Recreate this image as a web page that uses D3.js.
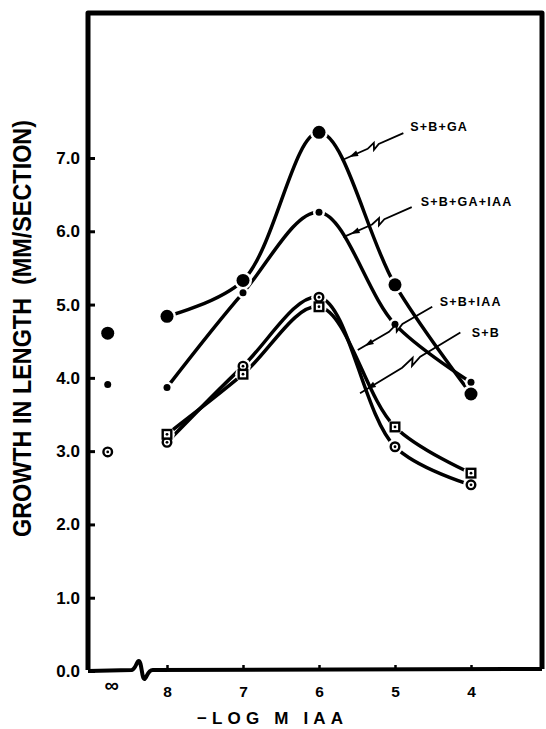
<!DOCTYPE html>
<html>
<head>
<meta charset="utf-8">
<script src="https://cdnjs.cloudflare.com/ajax/libs/d3/7.8.5/d3.min.js"></script>
<style>
body{margin:0;background:#fff;}
text{font-family:"Liberation Sans",Arial,sans-serif;font-weight:bold;fill:#000;}
</style>
</head>
<body>
<svg id="chart"></svg>
<script>
// -log M IAA, the ∞ column (no IAA) sits left of the axis break
var concs=[8,7,6,5,4];
var INF=8.78;
var yTicks=[0,1,2,3,4,5,6,7];

var seriesNames=["S+B+GA","S+B+GA+IAA","S+B+IAA","S+B"];
var seriesMarks=["big","dot","circle","square"];
// growth in length at 8,7,6,5,4
var sbga=[4.84,5.33,7.35,5.27,3.78];
var sbgaiaa=[3.87,5.16,6.26,4.73,3.94];
var sbiaa=[3.12,4.16,5.10,3.06,2.54];
var sb=[3.23,4.05,4.97,3.33,2.70];
var seriesVals=[sbga,sbgaiaa,sbiaa,sb];
// values at ∞ (S+B has none)
var infVals=[4.61,3.91,2.99,null];

// label anchor and leader ends, in data units [x,y]
var labelAt=[[4.80,7.37],[4.66,6.34],[4.41,4.98],[3.99,4.56]];
var leaderFrom=[[4.89,7.34],[4.78,6.33],[4.51,4.97],[4.14,4.62]];
var leaderTo=[[5.70,6.97],[5.68,5.92],[5.49,4.38],[5.46,3.79]];

var W=546,H=729;
var L=88,T=13,R=542,B=671;

var svg=d3.select("#chart").attr("width",W).attr("height",H);

var x=d3.scaleLinear().domain([8,4]).range([167,471]);
var y=d3.scaleLinear().domain([0,7]).range([B,158]);

// frame, bottom edge has the break squiggle
var bx=x(INF)+32;
var frame="M"+L+","+(B-1)+"L"+L+","+T+"L"+R+","+T+"L"+R+","+(B-2);
svg.append("path").attr("d",frame).attr("fill","none").attr("stroke","#000").attr("stroke-width",5).attr("stroke-linejoin","round");
var bottom="M"+L+","+B+"L"+(bx-8)+","+(B-1)
    +"C"+(bx-4)+","+(B-2)+" "+(bx-3)+","+(B-10)+" "+(bx-1)+","+(B-10)
    +"C"+(bx+2)+","+(B-10)+" "+(bx+2)+","+(B+9)+" "+(bx+5)+","+(B+8)
    +"C"+(bx+7)+","+(B+7)+" "+(bx+8)+","+(B-1)+" "+(bx+13)+","+(B-1)
    +"L"+R+","+(B-2);
svg.append("path").attr("d",bottom).attr("fill","none").attr("stroke","#000").attr("stroke-width",4).attr("stroke-linejoin","round");

// y axis ticks
var yAxis=svg.append("g").attr("transform","translate("+L+",0)")
    .call(d3.axisLeft(y).tickValues(yTicks).tickSize(-7).tickPadding(8).tickFormat(d3.format(".1f")));
yAxis.select(".domain").remove();
yAxis.selectAll("line").attr("stroke","#000").attr("stroke-width",3);
yAxis.selectAll("text").attr("font-size",17).attr("fill","#000");

// x axis ticks
var xAxis=svg.append("g").attr("transform","translate(0,"+B+")")
    .call(d3.axisBottom(x).tickValues(concs).tickSize(-6).tickPadding(15).tickFormat(d3.format("d")));
xAxis.select(".domain").remove();
xAxis.selectAll("line").attr("stroke","#000").attr("stroke-width",2.5);
xAxis.selectAll("text").attr("font-size",15.5).attr("fill","#000");

svg.append("text").attr("x",x(INF)+4).attr("y",B+21).attr("text-anchor","middle")
    .attr("font-size",20).text("∞");

// axis titles
svg.append("text").attr("x",197).attr("y",724).attr("font-size",17)
    .attr("textLength",146).attr("lengthAdjust","spacing").text("−LOG M IAA");
svg.append("text").attr("transform","translate(31,"+(y(0)-134)+") rotate(-90)")
    .attr("font-size",26).attr("textLength",417).attr("lengthAdjust","spacingAndGlyphs")
    .style("white-space","pre")
    .text("GROWTH IN LENGTH\u00a0\u00a0(MM/SECTION)");

// curves
var line=d3.line().x(function(d){return x(d[0])}).y(function(d){return y(d[1])})
    .curve(d3.curveCatmullRom.alpha(0.5));
var curves=svg.append("g").attr("class","curves");
seriesVals.forEach(function(vals,i){
    curves.append("path")
        .attr("d",line(concs.map(function(c,j){return [c,vals[j]]})))
        .attr("fill","none").attr("stroke","#000").attr("stroke-width",3.5)
        .attr("stroke-linecap","round");
});

// markers, white halo gives the gap where the ink line stops short
var pts=[];
seriesVals.forEach(function(vals,i){
    concs.forEach(function(c,j){pts.push({x:c,v:vals[j],m:seriesMarks[i]})});
    if(infVals[i]!=null) pts.push({x:INF,v:infVals[i],m:seriesMarks[i],inf:true});
});
var size={big:6.5,dot:3.5,circle:5.3,square:5.3};
var halo=svg.append("g").attr("class","halo");
halo.selectAll("circle").data(pts.filter(function(d){return !d.inf})).enter().append("circle")
    .attr("cx",function(d){return x(d.x)}).attr("cy",function(d){return y(d.v)})
    .attr("r",function(d){return size[d.m]+2.5}).attr("fill","#fff");

var marks=svg.append("g").attr("class","marks");
pts.forEach(function(d){
    var cx=x(d.x),cy=y(d.v),r=size[d.m];
    if(d.m=="big"||d.m=="dot"){
        marks.append("circle").attr("cx",cx).attr("cy",cy).attr("r",r).attr("fill","#000");
    }else{
        if(d.m=="circle"){
            marks.append("circle").attr("cx",cx).attr("cy",cy).attr("r",r-1)
                .attr("fill","#fff").attr("stroke","#000").attr("stroke-width",2.4);
        }else{
            marks.append("rect").attr("x",cx-r+1).attr("y",cy-r+1).attr("width",2*r-2).attr("height",2*r-2)
                .attr("fill","#fff").attr("stroke","#000").attr("stroke-width",2.4);
        }
        marks.append("circle").attr("cx",cx).attr("cy",cy).attr("r",1.4).attr("fill","#000");
    }
});

// labels with zigzag leader and arrow
var notes=svg.append("g").attr("class","notes");
seriesNames.forEach(function(name,i){
    var x0=x(leaderFrom[i][0]),y0=y(leaderFrom[i][1]);
    var x1=x(leaderTo[i][0]),y1=y(leaderTo[i][1]);
    var dx=x1-x0,dy=y1-y0,len=Math.sqrt(dx*dx+dy*dy);
    var ux=dx/len,uy=dy/len,nx=-uy,ny=ux;
    var pt=function(t,o){return [x0+dx*t+nx*o,y0+dy*t+ny*o]};
    var d=[pt(0,0),pt(0.40,0),pt(0.50,-3.5),pt(0.46,3),pt(0.58,0),pt(1,0)];
    notes.append("path").attr("d",d3.line()(d)).attr("fill","none")
        .attr("stroke","#000").attr("stroke-width",1.8).attr("stroke-linejoin","miter");
    var tip=[x1-ux*8,y1-uy*8];
    var head=[tip,[tip[0]-ux*9+nx*3,tip[1]-uy*9+ny*3],[tip[0]-ux*9-nx*3,tip[1]-uy*9-ny*3]];
    notes.append("path").attr("d",d3.line()(head)+"Z").attr("fill","#000");
    notes.append("text").attr("x",x(labelAt[i][0])).attr("y",y(labelAt[i][1]))
        .attr("font-size",12.5).attr("letter-spacing",1.2).text(name);
});
</script>
</body>
</html>
